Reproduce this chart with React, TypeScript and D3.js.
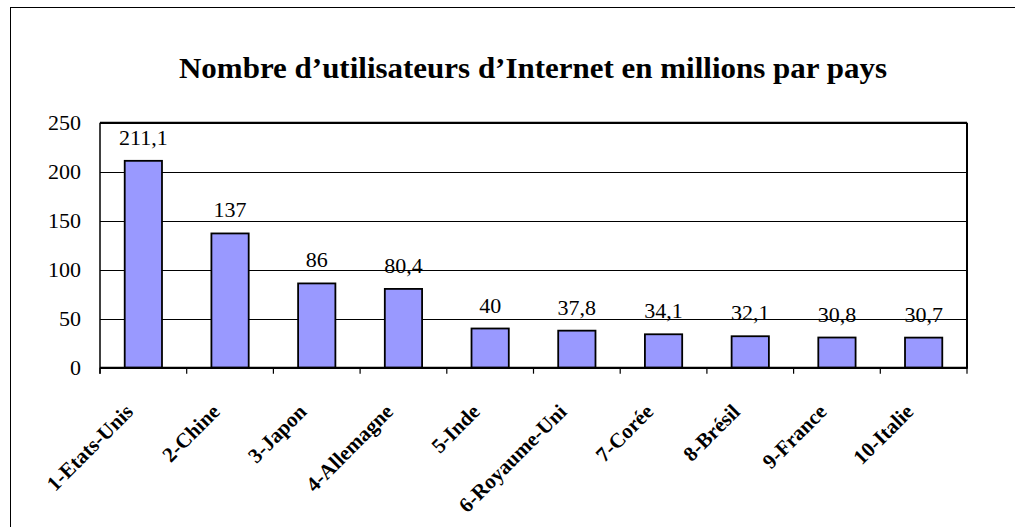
import React, { useEffect, useRef } from "react";
import * as d3 from "d3";

const categories = [
  "1-Etats-Unis",
  "2-Chine",
  "3-Japon",
  "4-Allemagne",
  "5-Inde",
  "6-Royaume-Uni",
  "7-Corée",
  "8-Brésil",
  "9-France",
  "10-Italie",
];
const values = [211.1, 137, 86, 80.4, 40, 37.8, 34.1, 32.1, 30.8, 30.7];
const valueLabels = ["211,1", "137", "86", "80,4", "40", "37,8", "34,1", "32,1", "30,8", "30,7"];
const yTicks = [0, 50, 100, 150, 200, 250];
const title = "Nombre d’utilisateurs d’Internet en millions par pays";

const W = 1015;
const H = 527;
const plot = { left: 100, right: 967, top: 122.7, bottom: 367.7 };
const SERIF = "Liberation Serif";

export default function App() {
  const ref = useRef<SVGSVGElement | null>(null);

  useEffect(() => {
    const svg = d3.select(ref.current);
    svg.selectAll("*").remove();

    const x = d3
      .scaleBand()
      .domain(categories)
      .range([plot.left, plot.right])
      .paddingInner(0.57)
      .paddingOuter(0.285);
    const xOuter = d3.scaleBand().domain(categories).range([plot.left, plot.right]);
    const y = d3.scaleLinear().domain([0, 250]).range([plot.bottom, plot.top]);

    svg.append("rect").attr("width", W).attr("height", H).attr("fill", "#fff");
    svg
      .append("rect")
      .attr("x", 10.5)
      .attr("y", 7.5)
      .attr("width", 1100)
      .attr("height", 700)
      .attr("fill", "none")
      .attr("stroke", "#000");

    svg
      .append("text")
      .attr("x", 533)
      .attr("y", 78)
      .attr("text-anchor", "middle")
      .attr("font-family", SERIF)
      .attr("font-size", 29)
      .attr("font-weight", "bold")
      .attr("textLength", 708)
      .attr("lengthAdjust", "spacingAndGlyphs")
      .text(title);

    // gridlines
    svg
      .append("g")
      .selectAll("line")
      .data(yTicks)
      .join("line")
      .attr("x1", plot.left)
      .attr("x2", plot.right)
      .attr("y1", (d) => Math.round(y(d)) + 0.5)
      .attr("y2", (d) => Math.round(y(d)) + 0.5)
      .attr("stroke", "#000");

    // y tick labels
    svg
      .append("g")
      .selectAll("text")
      .data(yTicks)
      .join("text")
      .attr("x", 81)
      .attr("y", (d) => y(d) + 7)
      .attr("text-anchor", "end")
      .attr("font-family", SERIF)
      .attr("font-size", 22)
      .text((d) => String(d));

    // bars
    svg
      .append("g")
      .selectAll("rect")
      .data(values)
      .join("rect")
      .attr("x", (_d, i) => x(categories[i]) as number)
      .attr("y", (d) => y(d))
      .attr("width", x.bandwidth())
      .attr("height", (d) => plot.bottom - y(d))
      .attr("fill", "#9999FF")
      .attr("stroke", "#000")
      .attr("stroke-width", 1.8);

    // value labels
    svg
      .append("g")
      .selectAll("text")
      .data(values)
      .join("text")
      .attr("x", (_d, i) => (x(categories[i]) as number) + x.bandwidth() / 2)
      .attr("y", (d) => y(d) - 16)
      .attr("text-anchor", "middle")
      .attr("font-family", SERIF)
      .attr("font-size", 22)
      .text((_d, i) => valueLabels[i]);

    // frame
    const frame = [
      [plot.left, plot.top, plot.right, plot.top, 2],
      [plot.right, plot.top, plot.right, plot.bottom, 2],
      [plot.left, plot.top, plot.left, plot.bottom + 6, 1.5],
      [plot.left, plot.bottom, plot.right + 1, plot.bottom, 2],
    ];
    svg
      .append("g")
      .selectAll("line")
      .data(frame)
      .join("line")
      .attr("x1", (d) => d[0])
      .attr("y1", (d) => d[1])
      .attr("x2", (d) => d[2])
      .attr("y2", (d) => d[3])
      .attr("stroke", "#000")
      .attr("stroke-width", (d) => d[4]);

    // x ticks
    const boundaries = categories.map((c) => xOuter(c) as number).concat([plot.right]);
    svg
      .append("g")
      .selectAll("line")
      .data(boundaries)
      .join("line")
      .attr("x1", (d) => d)
      .attr("x2", (d) => d)
      .attr("y1", plot.bottom)
      .attr("y2", plot.bottom + 6)
      .attr("stroke", "#000")
      .attr("stroke-width", 1.2);

    // category labels
    svg
      .append("g")
      .selectAll("text")
      .data(categories)
      .join("text")
      .attr("transform", (c) => {
        const px = (xOuter(c) as number) + xOuter.bandwidth() / 2 - 9;
        return `translate(${px},413) rotate(-45)`;
      })
      .attr("text-anchor", "end")
      .attr("font-family", SERIF)
      .attr("font-size", 21)
      .attr("font-weight", "bold")
      .text((c) => c);
  }, []);

  return (
    <svg
      ref={ref}
      width={W}
      height={H}
      style={{ position: "absolute", left: 0, top: 0, background: "#fff" }}
    />
  );
}
